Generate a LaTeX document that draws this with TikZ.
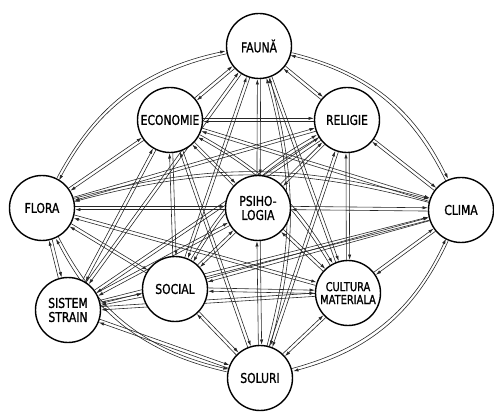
\documentclass[tikz,border=0pt]{standalone}
\usepackage{fontspec}
\newfontfamily\labelfont[FakeStretch=0.8, FakeBold=1.2]{DejaVu Sans}
\usetikzlibrary{calc,arrows.meta,backgrounds}

\tikzset{
  factor/.style={circle, draw, line width=1.2pt, fill=white, minimum size=1.95cm,
    inner sep=0pt, align=center, font=\labelfont\fontsize{11.5}{12}\selectfont},
  tie/.style={black!85, line width=0.5pt, -{Latex[length=4.5pt,width=2.8pt]}},
}

% two parallel arrows between two factors, optional bend
\newcommand\link[3][0]{%
  \draw[tie] let \p1=($(#3)-(#2)$), \n1={atan2(\y1,\x1)}, \n2={\n1+#1}, \n3={\n1+180-#1} in
    ([shift={(\n1+90:1.4pt)}]#2.\n2) to[bend left=#1] ([shift={(\n1+90:1.4pt)}]#3.\n3);
  \draw[tie] let \p1=($(#3)-(#2)$), \n1={atan2(\y1,\x1)}, \n2={\n1+#1}, \n3={\n1+180-#1} in
    ([shift={(\n1-90:1.4pt)}]#3.\n3) to[bend right=#1] ([shift={(\n1-90:1.4pt)}]#2.\n2);
}

\begin{document}
\begin{tikzpicture}[x=0.03cm, y=0.03cm]
  \useasboundingbox (0,0) rectangle (494,416);

  % factors
  \node[factor] (fauna)    at (259,370) {FAUNĂ};
  \node[factor] (economie) at (170,296) {ECONOMIE};
  \node[factor] (religie)  at (347,296) {RELIGIE};
  \node[factor] (flora)    at (42,208)  {FLORA};
  \node[factor] (psiho)    at (258,208) {PSIHO-\\LOGIA};
  \node[factor] (clima)    at (461,206) {CLIMA};
  \node[factor] (sistem)   at (68,106)  {SISTEM\\STRAIN};
  \node[factor] (social)   at (175,127) {SOCIAL};
  \node[factor, font=\labelfont\fontsize{10.5}{11}\selectfont] (cultura) at (348,123) {CULTURA\\MATERIALA};
  \node[factor] (soluri)   at (260,38)  {SOLURI};

  \begin{scope}[on background layer]
    % outer ring
    \link[25]{flora}{fauna}
    \link[25]{fauna}{clima}
    \link[25]{clima}{soluri}
    \link[25]{soluri}{flora}
    % across the middle
    \link[15]{flora}{clima}
    \link[15]{fauna}{soluri}
    \link[15]{economie}{cultura}
    \link[15]{social}{religie}
    % the rest
    \foreach \a/\b in {fauna/economie, fauna/religie, fauna/psiho, fauna/sistem,
        fauna/social, fauna/cultura,
        economie/religie, economie/flora, economie/psiho, economie/clima,
        economie/sistem, economie/social, economie/soluri,
        religie/flora, religie/psiho, religie/clima, religie/sistem,
        religie/cultura, religie/soluri,
        flora/psiho, flora/sistem, flora/social, flora/cultura,
        psiho/clima, psiho/sistem, psiho/social, psiho/cultura, psiho/soluri,
        clima/sistem, clima/social, clima/cultura,
        sistem/social, sistem/cultura, sistem/soluri,
        social/cultura, social/soluri, cultura/soluri}
      {\link{\a}{\b}}
  \end{scope}
\end{tikzpicture}
\end{document}
